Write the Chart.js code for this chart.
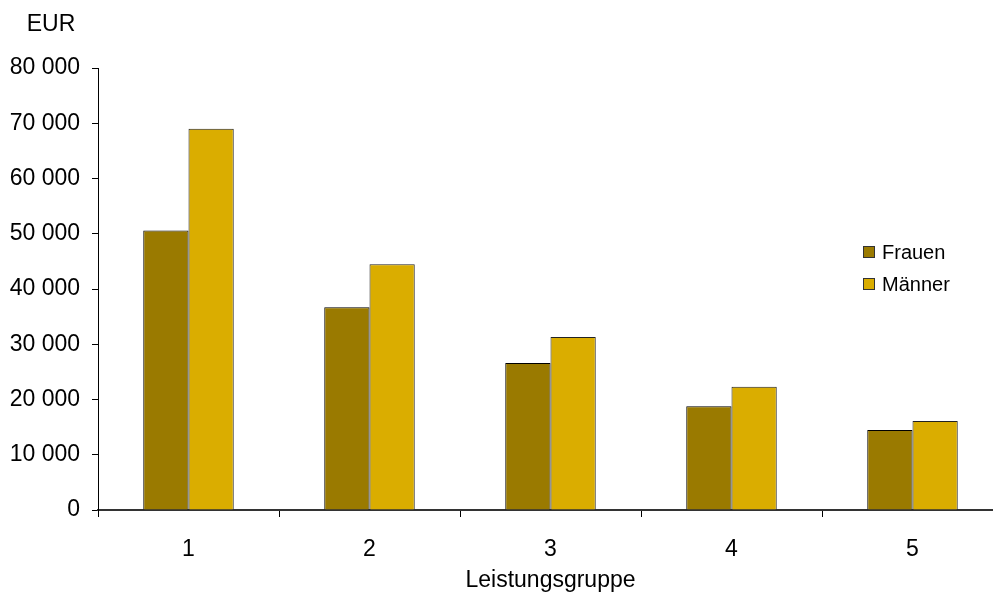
<!DOCTYPE html>
<html>
<head>
<meta charset="utf-8">
<script src="https://cdn.jsdelivr.net/npm/chart.js@4"></script>
<style>
  html, body { margin: 0; padding: 0; overflow: hidden; background: #fff; }
  canvas { display: block; }
</style>
</head>
<body>
<canvas id="chart" width="1003" height="594"></canvas>
<script>
let groups = ["1", "2", "3", "4", "5"];
let frauen = [50600, 36700, 26600, 18800, 14500];
let maenner = [69000, 44500, 31300, 22300, 16100];
let colorFrauen = "rgb(154, 122, 0)";
let colorMaenner = "rgb(218, 173, 0)";

Chart.defaults.font.family = "'Liberation Sans', Arial, sans-serif";
Chart.defaults.color = "#000";

// legend and unit label drawn by hand, inside the plot
let extras = {
  id: "extras",
  afterDraw(chart) {
    let c = chart.ctx;
    c.save();
    c.font = "23px 'Liberation Sans', Arial, sans-serif";
    c.fillStyle = "#000";
    c.textBaseline = "middle";
    c.textAlign = "center";
    c.fillText("EUR", 51, 25);
    c.textAlign = "left";
    c.font = "20px 'Liberation Sans', Arial, sans-serif";
    chart.data.datasets.forEach(function(ds, i) {
      let y = 252 + i * 32;
      c.fillStyle = ds.backgroundColor;
      c.fillRect(863, y - 6, 12, 12);
      c.strokeStyle = "#333";
      c.lineWidth = 1;
      c.strokeRect(863.5, y - 5.5, 11, 11);
      c.fillStyle = "#000";
      c.fillText(ds.label, 882, y + 1);
    });
    c.restore();
  }
};

new Chart(document.getElementById("chart"), {
  type: "bar",
  data: {
    labels: groups,
    datasets: [
      { label: "Frauen", data: frauen, backgroundColor: colorFrauen, borderColor: "#000", borderWidth: 1 },
      { label: "Männer", data: maenner, backgroundColor: colorMaenner, borderColor: "#222", borderWidth: 1 }
    ]
  },
  options: {
    responsive: false,
    animation: false,
    categoryPercentage: 0.5,
    barPercentage: 1,
    layout: { padding: { top: 68, right: 0, left: 0, bottom: 0 } },
    plugins: { legend: { display: false }, tooltip: { enabled: false } },
    scales: {
      x: {
        grid: { drawOnChartArea: false, color: "#000", tickLength: 7 },
        border: { color: "#333", width: 2 },
        ticks: { font: { size: 23 }, padding: 19 },
        title: { display: true, text: "Leistungsgruppe", font: { size: 23 }, padding: { top: 0, bottom: 0 } },
        afterFit(scale) { scale.height = 84; }
      },
      y: {
        min: 0,
        max: 80000,
        grid: { drawOnChartArea: false, color: "#000", tickLength: 6 },
        border: { color: "#000", width: 1 },
        ticks: {
          stepSize: 10000,
          font: { size: 23 },
          padding: 12,
          callback: function(v) { return v.toString().replace(/\B(?=(\d{3})+(?!\d))/g, " "); }
        },
        afterFit(scale) { scale.width = 98; }
      }
    }
  },
  plugins: [extras]
});
</script>
</body>
</html>
